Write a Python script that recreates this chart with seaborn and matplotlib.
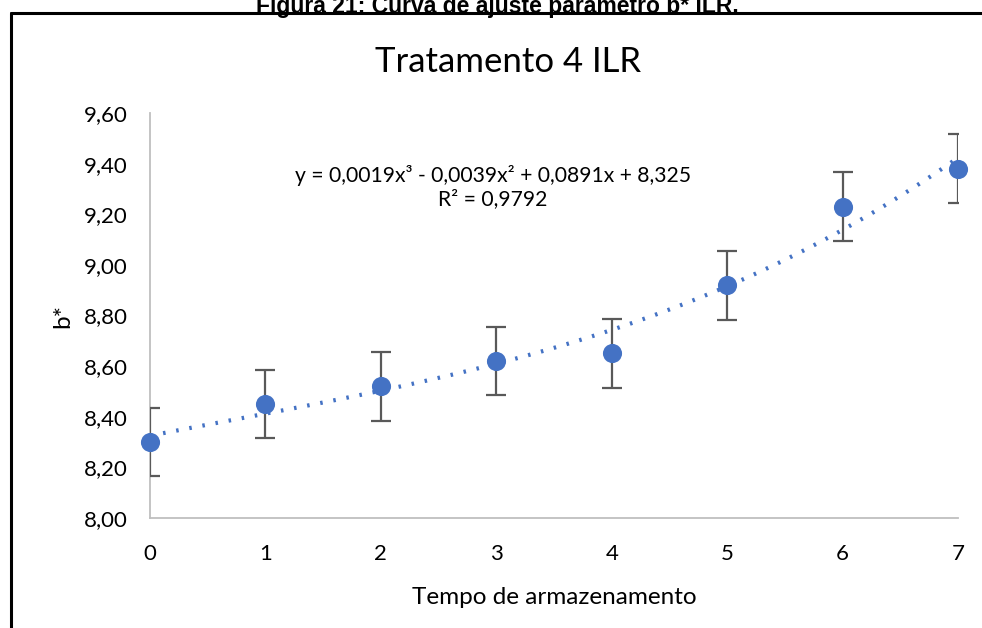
import numpy as np
import pandas as pd
import matplotlib
matplotlib.use("Agg")
import matplotlib.pyplot as plt
import seaborn as sns
from matplotlib.lines import Line2D

# ---- data ----
tempo = [0, 1, 2, 3, 4, 5, 6, 7]
b_star = [8.30, 8.45, 8.52, 8.62, 8.65, 8.92, 9.23, 9.38]
erro = [0.135, 0.135, 0.135, 0.135, 0.135, 0.136, 0.136, 0.136]
y_ticks = [8.00, 8.20, 8.40, 8.60, 8.80, 9.00, 9.20, 9.40, 9.60]
x_ticks = [0, 1, 2, 3, 4, 5, 6, 7]
titulo = "Tratamento 4 ILR"
legenda_fig = "Figura 21: Curva de ajuste parâmetro b* ILR."
equacao = "y = 0,0019x³ - 0,0039x² + 0,0891x + 8,325\nR² = 0,9792"

df = pd.DataFrame({"tempo": tempo, "b": b_star, "erro": erro})

sns.set_theme(style="white")
plt.rcParams["font.family"] = ["Lato", "DejaVu Sans"]

fig = plt.figure(figsize=(9.82, 6.28), dpi=100)
ax = fig.add_axes([150 / 982, 1 - 518 / 628, (958 - 150) / 982, (518 - 113) / 628])

blue = "#4472C4"

# polynomial trendline (order 3) computed by seaborn
sns.regplot(data=df, x="tempo", y="b", order=3, ci=None, scatter=False, ax=ax,
            line_kws=dict(color=blue, lw=3, ls=(0, (0.6, 2.6)), dash_capstyle="butt", zorder=2))

# error bars
ax.errorbar(df["tempo"], df["b"], yerr=df["erro"], fmt="none", ecolor="#595959",
            elinewidth=1.6, capsize=7, capthick=1.6, zorder=3, clip_on=True)

# points
sns.scatterplot(data=df, x="tempo", y="b", ax=ax, color=blue, s=190, edgecolor=blue,
                linewidth=0, zorder=4, clip_on=False)

ax.set_xlim(0, 7)
ax.set_ylim(8.0, 9.6)
ax.set_xticks(x_ticks)
ax.set_yticks(y_ticks)
ax.set_xticklabels([str(v) for v in x_ticks])
ax.set_yticklabels([f"{v:.2f}".replace(".", ",") for v in y_ticks])
ax.tick_params(axis="both", length=0, labelsize=16, colors="#000000")
ax.tick_params(axis="x", pad=19)
ax.tick_params(axis="y", pad=16)

for s in ["top", "right"]:
    ax.spines[s].set_visible(False)
for s in ["left", "bottom"]:
    ax.spines[s].set_color("#BFBFBF")
    ax.spines[s].set_linewidth(1.3)

ax.set_xlabel("Tempo de armazenamento", fontsize=17.5, labelpad=16, color="#000000")
ax.set_ylabel("b*", fontsize=17.5, labelpad=6, color="#000000")
ax.yaxis.set_label_coords(-0.095, 0.5)

fig.text(508 / 982, 1 - 62 / 628, titulo, ha="center", va="center", fontsize=25, color="#000000")
ax.text(493 / 982, 1 - 187 / 628, equacao, transform=fig.transFigure, ha="center", va="center",
        fontsize=15.2, linespacing=1.2, color="#000000")

# caption (partially cut at top, as in the reference) and outer frame
fig.text(497 / 982, 1 - 13 / 628, legenda_fig, ha="center", va="baseline", fontsize=16.5,
         fontweight="bold", family=["Liberation Sans", "DejaVu Sans"], color="#000000")
fig.add_artist(Line2D([11 / 982, 1.0], [1 - 13 / 628, 1 - 13 / 628], transform=fig.transFigure,
                      color="black", lw=2.2))
fig.add_artist(Line2D([11 / 982, 11 / 982], [0, 1 - 13 / 628], transform=fig.transFigure,
                      color="black", lw=2.2))

fig.savefig("out.png", dpi=100)
